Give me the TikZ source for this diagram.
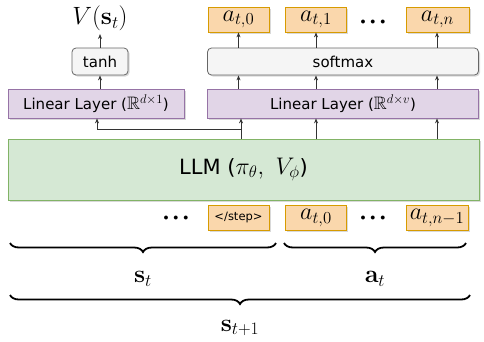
\RequirePackage{fix-cm}
\documentclass[tikz,border=0pt]{standalone}
\usepackage[no-math]{fontspec}
\usepackage{amsmath,amssymb}
\setmainfont{DejaVu Sans}
\usetikzlibrary{shadows,decorations.pathreplacing,arrows.meta}
\definecolor{orF}{HTML}{FAD7AC}
\definecolor{orB}{HTML}{D79B00}
\definecolor{puF}{HTML}{E1D5E7}
\definecolor{puB}{HTML}{9673A6}
\definecolor{grF}{HTML}{F5F5F5}
\definecolor{grB}{HTML}{666666}
\definecolor{gnF}{HTML}{D5E8D4}
\definecolor{gnB}{HTML}{82B366}
\tikzset{
  shad/.style={drop shadow={opacity=0.3,shadow xshift=1.5pt,shadow yshift=-1.5pt}},
  obox/.style={draw=orB,fill=orF,line width=0.8pt,shad,inner sep=0pt,minimum height=25pt,font=\fontsize{24}{24}\selectfont},
  pbox/.style={draw=puB,fill=puF,line width=0.8pt,shad,inner sep=0pt,minimum height=29pt,font=\fontsize{15}{15}\selectfont},
  gbox/.style={draw=grB,fill=grF,line width=0.8pt,shad,rounded corners=4pt,inner sep=0pt,minimum height=27pt,font=\fontsize{15}{15}\selectfont},
  lbox/.style={draw=gnB,fill=gnF,line width=0.8pt,shad,inner sep=0pt,minimum height=61pt,font=\fontsize{21}{21}\selectfont},
  arr/.style={-{Stealth[length=5pt,width=4pt]},line width=0.8pt,black!80},
  brc/.style={decorate,decoration={brace,mirror,amplitude=9pt},line width=1.8pt},
  dots/.style={font=\fontsize{10}{10}\selectfont},
  mlab/.style={font=\fontsize{25}{25}\selectfont}
}
\newcommand{\mydots}{$\bullet\;\bullet\;\bullet$}
\newcommand{\bigmath}[1]{{\fontsize{18}{18}\selectfont$#1$}}
\begin{document}
\begin{tikzpicture}[x=1pt,y=-1pt]
\useasboundingbox (0,0) rectangle (484,341);
% top
\node[mlab] (V) at (100,18) {$V(\mathbf{s}_t)$};
\node[gbox,minimum width=56pt] (tanh) at (100,61.5) {tanh};
\node[pbox,minimum width=176pt] (linL) at (96,103.5) {Linear Layer (\bigmath{\mathbb{R}^{d\times 1}})};
\node[pbox,minimum width=271pt] (linR) at (343,103.5) {Linear Layer (\bigmath{\mathbb{R}^{d\times v}})};
\node[gbox,minimum width=271pt] (soft) at (343,61.5) {softmax};
\node[obox,minimum width=61pt] (a0) at (238.5,19.5) {$a_{t,0}$};
\node[obox,minimum width=61pt] (a1) at (316,19.5) {$a_{t,1}$};
\node[obox,minimum width=63pt] (an) at (437.5,19.5) {$a_{t,n}$};
\node[dots] (d1) at (373,22) {\mydots};
% LLM
\node[lbox,minimum width=471pt] (llm) at (243.5,169.5) {LLM ({\fontsize{24}{24}\selectfont$\pi_\theta,\ V_\phi$})};
% bottom row
\node[dots] (d2) at (176,218) {\mydots};
\node[obox,minimum width=61pt,font=\fontsize{11.5}{11.5}\selectfont] (stp) at (238.5,217.5) {</step>};
\node[obox,minimum width=61pt] (b0) at (316,218) {$a_{t,0}$};
\node[dots] (d3) at (373,218) {\mydots};
\node[obox,minimum width=62pt] (bn) at (437,218) {$a_{t,n-1}$};
% arrows
\draw[arr] (tanh.north) -- (V.south);
\draw[arr] (linL.north -| tanh.south) -- (tanh.south);
\foreach \x/\t in {238.5/a0,316/a1,437/an}{
  \draw[arr] (soft.north -| \x,0) -- (\t.south -| \x,0);
  \draw[arr] (linR.north -| \x,0) -- (soft.south -| \x,0);
}
\coordinate (j) at (241,129);
\draw[arr] (llm.north -| j) -- (linR.south -| j);
\draw[arr] (j) -- (97,129) -- (linL.south -| 97,0);
\draw[arr] (llm.north -| 316,0) -- (linR.south -| 316,0);
\draw[arr] (llm.north -| 437,0) -- (linR.south -| 437,0);
% braces
\draw[brc] (10,243) -- (276,243);
\draw[brc] (284,243) -- (466,243);
\draw[brc] (10,295) -- (470,295);
\node[mlab] (st) at (143,279) {$\mathbf{s}_t$};
\node[mlab] (at) at (375,279) {$\mathbf{a}_t$};
\node[mlab] (st1) at (240,328) {$\mathbf{s}_{t+1}$};
\end{tikzpicture}
\end{document}
